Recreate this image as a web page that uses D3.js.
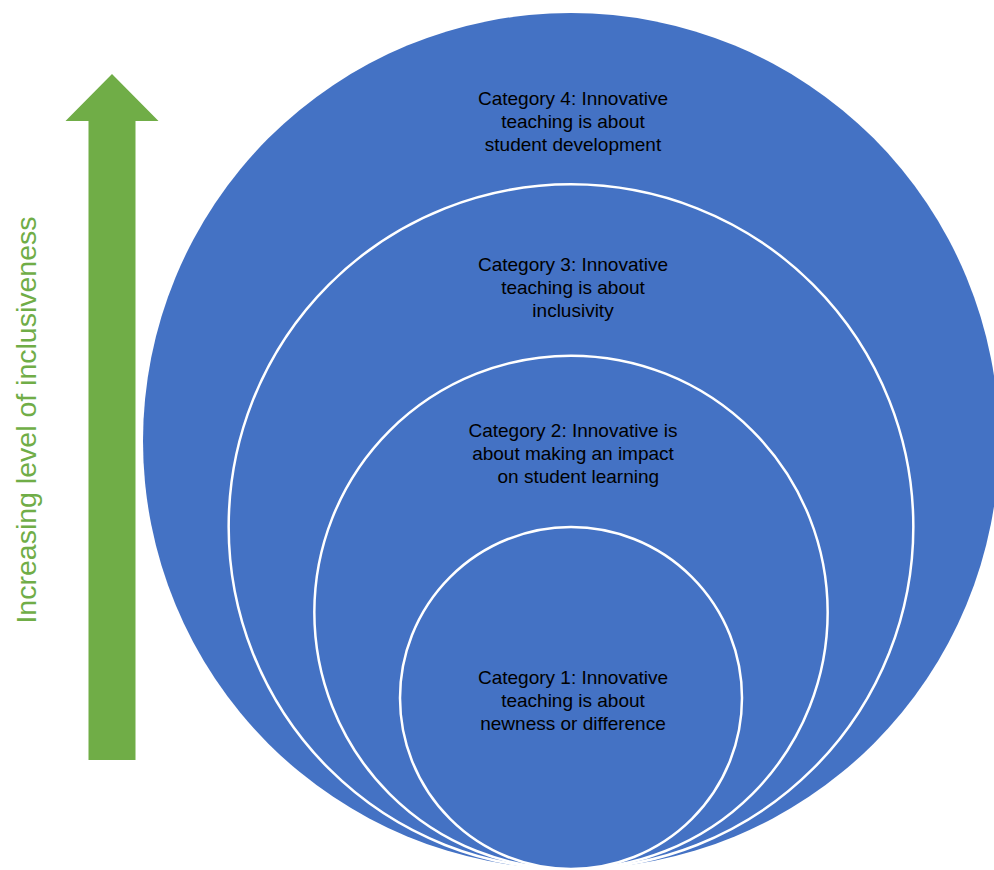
<!DOCTYPE html>
<html>
<head>
<meta charset="utf-8">
<script src="https://cdn.jsdelivr.net/npm/d3@7"></script>
<style>
  html, body { margin: 0; padding: 0; background: #fff; }
  svg { display: block; }
</style>
</head>
<body>
<div id="chart"></div>
<script>
// levels, innermost first
const levels = [1, 2, 3, 4];
const labels = [
    ["Category 1: Innovative", "teaching is about", "newness or difference"],
    ["Category 2: Innovative is", "about making an impact", "  on student learning"],
    ["Category 3: Innovative", "teaching is about", "inclusivity"],
    ["Category 4: Innovative", "teaching is about", "student development"]
];
const axisLabel = "Increasing level of inclusiveness";

const
    width = 994,
    height = 870,
    cx = 571,
    baseY = 869,
    colors = { fill: "#4472C4", ring: "#ffffff", arrow: "#70AD47", text: "#000000" },
    svg = d3.select("#chart").append("svg").attr("width", width).attr("height", height);

const r = d3.scaleLinear().domain([1, 4]).range([171, 428]);

// outer circle drawn first
const rings = levels.slice().reverse();

svg.selectAll(".ring")
    .data(rings)
    .enter().append("circle")
    .attr("class", "ring")
    .attr("cx", cx)
    .attr("cy", d => baseY - r(d))
    .attr("r", d => r(d))
    .attr("fill", colors.fill)
    .attr("stroke", d => d === 4 ? "none" : colors.ring)
    .attr("stroke-width", 2.5);

// labels
levels.forEach((lv, i) => {
    const top = baseY - 2 * r(lv);
    const firstY = lv === 1 ? baseY - r(lv) - 21 : top + 65 + 5 * lv;
    const t = svg.append("text")
        .attr("text-anchor", "middle")
        .attr("fill", colors.text)
        .style("font", "19px 'Liberation Sans', Arial, sans-serif")
        .style("white-space", "pre");
    labels[i].forEach((line, j) => {
        t.append("tspan")
            .attr("x", cx + 2)
            .attr("y", firstY + j * 23)
            .attr("dy", "0.35em")
            .text(line);
    });
});

// arrow
const ax = 112;
const arrow = d3.path();
arrow.moveTo(ax, 74);
arrow.lineTo(ax + 46.5, 121);
arrow.lineTo(ax + 23.5, 121);
arrow.lineTo(ax + 23.5, 760);
arrow.lineTo(ax - 23.5, 760);
arrow.lineTo(ax - 23.5, 121);
arrow.lineTo(ax - 46.5, 121);
arrow.closePath();

svg.append("path")
    .attr("d", arrow.toString())
    .attr("fill", colors.arrow);

svg.append("text")
    .attr("transform", "translate(36,420) rotate(-90)")
    .attr("text-anchor", "middle")
    .attr("fill", colors.arrow)
    .style("font", "28.5px 'Liberation Sans', Arial, sans-serif")
    .text(axisLabel);
</script>
</body>
</html>
